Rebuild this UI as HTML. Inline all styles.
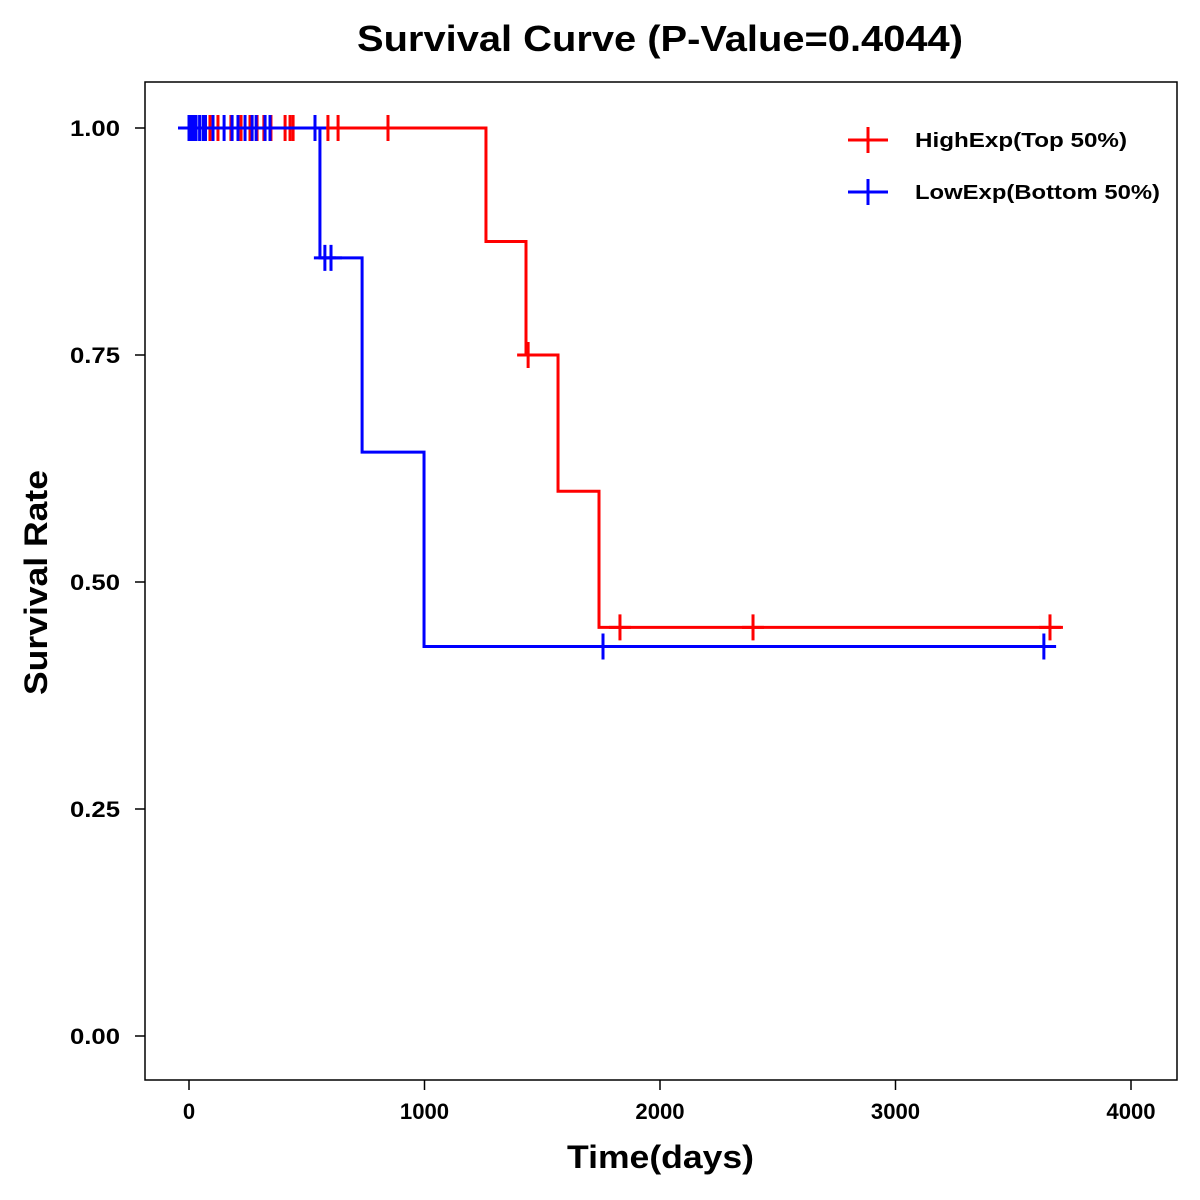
<!DOCTYPE html>
<html><head><meta charset="utf-8"><style>
html,body{margin:0;padding:0;background:#fff;}
svg{display:block;font-family:"Liberation Sans",Arial,sans-serif;font-weight:bold;}
</style></head><body>
<svg id="chart" width="1200" height="1200" viewBox="0 0 1200 1200">
<rect x="0" y="0" width="1200" height="1200" fill="#fff"/>
<text x="357" y="51" font-size="36" textLength="606" lengthAdjust="spacingAndGlyphs">Survival Curve (P-Value=0.4044)</text>
<rect x="145" y="82" width="1032" height="998" fill="none" stroke="#000" stroke-width="1.5"/>
<g id="axes"></g>
<g id="series"></g>
<text x="567" y="1168" font-size="32" textLength="187" lengthAdjust="spacingAndGlyphs">Time(days)</text>
<text transform="translate(47,695) rotate(-90)" font-size="32" textLength="225" lengthAdjust="spacingAndGlyphs">Survival Rate</text>
<g>
<g>
<line x1="848" y1="140" x2="888" y2="140" stroke="#f00" stroke-width="3"/>
<line x1="868" y1="127" x2="868" y2="153" stroke="#f00" stroke-width="3"/>
<text x="915" y="147" font-size="20" textLength="212" lengthAdjust="spacingAndGlyphs">HighExp(Top 50%)</text></g>
<g>
<line x1="848" y1="192" x2="888" y2="192" stroke="#00f" stroke-width="3"/>
<line x1="868" y1="179" x2="868" y2="205" stroke="#00f" stroke-width="3"/>
<text x="915" y="199" font-size="20" textLength="245" lengthAdjust="spacingAndGlyphs">LowExp(Bottom 50%)</text></g>
</g>
</svg>
<script>
const xTicks=[0,1000,2000,3000,4000];
const yTicks=[0,0.25,0.5,0.75,1];
const yTickLabels=["0.00","0.25","0.50","0.75","1.00"];
const highStepTimes=[0,1261,1431,1567,1741,3711];
const highStepSurv=[1,0.875,0.75,0.6,0.45,0.45];
const highCensorTimes=[89,123,178,221,259,289,318,348,408,429,442,590,633,845,1440,1830,2395,3656];
const highCensorSurv=[1,1,1,1,1,1,1,1,1,1,1,1,1,1,0.75,0.45,0.45,0.45];
const lowStepTimes=[0,556,735,998,3682];
const lowStepSurv=[1,0.857,0.643,0.429,0.429];
const lowCensorTimes=[0,10,20,30,45,60,70,102,149,183,208,238,268,285,323,344,535,577,603,1758,3630];
const lowCensorSurv=[1,1,1,1,1,1,1,1,1,1,1,1,1,1,1,1,1,0.857,0.857,0.429,0.429];
const NS="http://www.w3.org/2000/svg";
const xs=t=>189+t*0.2355;
const ys=v=>1036-v*908;
function mk(tag,at,parent){const e=document.createElementNS(NS,tag);for(const k in at)e.setAttribute(k,at[k]);parent.appendChild(e);return e;}
const axes=document.getElementById('axes');
xTicks.forEach(t=>{
  const l=mk('line',{x1:xs(t),x2:xs(t),y1:1080,y2:1090,stroke:'#000','stroke-width':1.5},axes);
  
  
  const s=String(t);
  const tx=mk('text',{x:xs(t),y:1119,'text-anchor':'middle','font-size':22,textLength:s.length*12.3,lengthAdjust:'spacingAndGlyphs'},axes);
  tx.textContent=s;
  
  
});
yTicks.forEach((v,i)=>{
  const l=mk('line',{x1:135,x2:145,y1:ys(v),y2:ys(v),stroke:'#000','stroke-width':1.5},axes);
  
  
  const tx=mk('text',{x:120,y:ys(v)+8,'text-anchor':'end','font-size':22,textLength:50,lengthAdjust:'spacingAndGlyphs'},axes);
  tx.textContent=yTickLabels[i];
  
  
});
const ser=document.getElementById('series');
function drawSeries(times,surv,ct,cs,color,name){
  let d='M'+xs(times[0])+','+ys(surv[0]);
  for(let i=1;i<times.length;i++){d+=' H'+xs(times[i])+' V'+ys(surv[i]);}
  const p=mk('path',{d:d,fill:'none',stroke:color,'stroke-width':3},ser);
  
  
  ct.forEach((t,i)=>{
    const x=xs(t),y=ys(cs[i]);
    const g=mk('path',{d:`M${x-11},${y} H${x+11} M${x},${y-13} V${y+13}`,stroke:color,'stroke-width':3,fill:'none'},ser);
    
    
  });
}
drawSeries(highStepTimes,highStepSurv,highCensorTimes,highCensorSurv,'#f00','high-exp');
drawSeries(lowStepTimes,lowStepSurv,lowCensorTimes,lowCensorSurv,'#00f','low-exp');
</script>
</body></html>
